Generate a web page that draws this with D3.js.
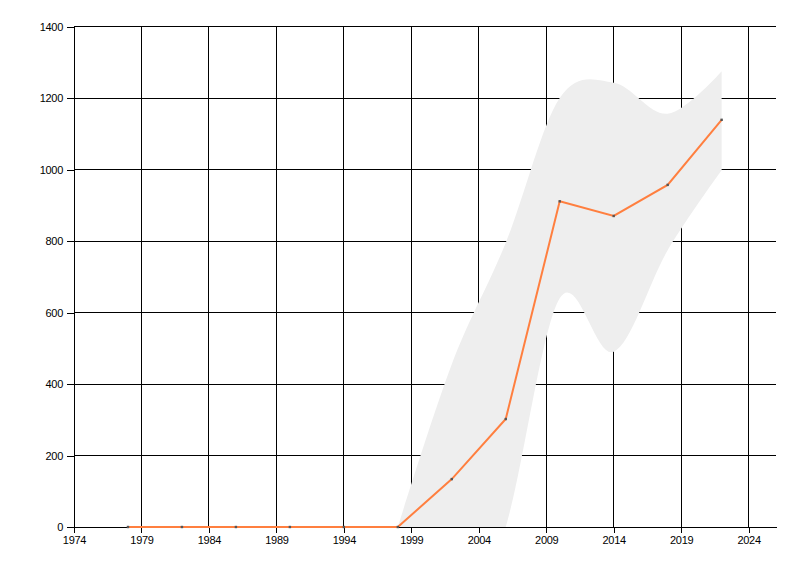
<!DOCTYPE html>
<html>
<head>
<meta charset="utf-8">
<script src="https://cdn.jsdelivr.net/npm/d3@7"></script>
<style>
  body { margin: 0; background: #fff; }
  svg text { font-family: "Liberation Sans", Arial, sans-serif; font-size: 11px; fill: #000; }
</style>
</head>
<body>
<div id="chart"></div>
<script>
// values
let years = [1978, 1982, 1986, 1990, 1994, 1998, 2002, 2006, 2010, 2014, 2018, 2022];
let values = [0, 0, 0, 0, 0, 0, 134, 302, 911, 870, 957, 1139];
// uncertainty band, only drawn from 1998 on
let bandYears = [1998, 2002, 2006, 2010, 2014, 2018, 2022];
let upper = [0, 455, 795, 1200, 1243, 1156, 1275];
let lower = [0, -400, 0, 640, 490, 774, 998];
let xTicks = [1974, 1979, 1984, 1989, 1994, 1999, 2004, 2009, 2014, 2019, 2024];
let yTicks = [0, 200, 400, 600, 800, 1000, 1200, 1400];

let w = 800;
let h = 576;
let padLeft = 74, padRight = 776, padTop = 26.5, padBottom = 527;

let svg = d3.select("#chart")
    .append("svg")
    .attr("width", w)
    .attr("height", h);

let xScale = d3.scaleLinear().domain([1974, 2026.03]).range([padLeft, padRight]);
let yScale = d3.scaleLinear().domain([0, 1400]).range([padBottom, padTop]);

let rows = years.map(function (y, i) {
    return { year: y, value: values[i] };
});
let bandRows = bandYears.map(function (y, i) {
    return { year: y, hi: upper[i], lo: lower[i] };
});

svg.append("defs").append("clipPath")
    .attr("id", "plot")
    .append("rect")
    .attr("x", padLeft)
    .attr("y", padTop)
    .attr("width", padRight - padLeft)
    .attr("height", padBottom - padTop);

// grid
let grid = svg.append("g").attr("shape-rendering", "crispEdges");
grid.selectAll(".vline").data(xTicks).enter()
    .append("line")
    .attr("x1", d => xScale(d)).attr("x2", d => xScale(d))
    .attr("y1", yScale(1400)).attr("y2", padBottom)
    .attr("stroke", "#000");
grid.selectAll(".hline").data(yTicks).enter()
    .append("line")
    .attr("x1", padLeft).attr("x2", padRight)
    .attr("y1", d => yScale(d)).attr("y2", d => yScale(d))
    .attr("stroke", "#000");

// band
let bandMaker = d3.area()
    .x(d => xScale(d.year))
    .y0(d => yScale(d.lo))
    .y1(d => yScale(d.hi))
    .curve(d3.curveCardinal.tension(0));

svg.append("path")
    .datum(bandRows)
    .attr("clip-path", "url(#plot)")
    .attr("d", bandMaker)
    .attr("fill", "#eeeeee");

// axes
let xAxis = d3.axisBottom(xScale)
    .tickValues(xTicks)
    .tickFormat(d3.format("d"))
    .tickSize(6)
    .tickSizeOuter(0)
    .tickPadding(3);
let xAxisGroup = svg.append("g")
    .attr("transform", "translate(0," + padBottom + ")")
    .attr("shape-rendering", "crispEdges")
    .call(xAxis);

let yAxis = d3.axisLeft(yScale)
    .tickValues(yTicks)
    .tickFormat(d3.format("d"))
    .tickSize(7)
    .tickSizeOuter(0)
    .tickPadding(4);
let yAxisGroup = svg.append("g")
    .attr("transform", "translate(" + padLeft + ",0)")
    .attr("shape-rendering", "crispEdges")
    .call(yAxis);

svg.selectAll(".domain").attr("stroke", "#000");
svg.selectAll(".tick line").attr("stroke", "#000");
svg.selectAll(".tick text")
    .attr("fill", "#000")
    .style("letter-spacing", "-0.3px");

// line + points
let lineMaker = d3.line()
    .x(d => xScale(d.year))
    .y(d => yScale(d.value));

svg.append("path")
    .datum(rows)
    .attr("d", lineMaker)
    .attr("fill", "none")
    .attr("stroke", "#ff7f3f")
    .attr("stroke-width", 2);

svg.selectAll(".pt").data(rows).enter()
    .append("rect")
    .attr("class", "pt")
    .attr("x", d => xScale(d.year) - 1.2)
    .attr("y", d => yScale(d.value) - 1.2)
    .attr("width", 2.4)
    .attr("height", 2.4)
    .attr("fill", "#555");
</script>
</body>
</html>
